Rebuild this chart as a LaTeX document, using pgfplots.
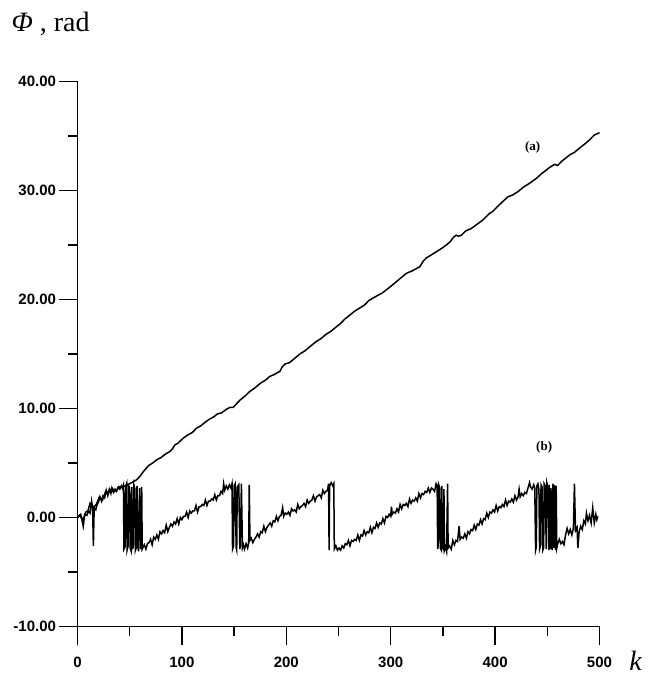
\documentclass[border=0pt]{standalone}
\usepackage{fontspec}
\setmainfont{Liberation Serif}
\newfontfamily\arial{Liberation Sans}
\usepackage{pgfplots}
\pgfplotsset{compat=1.18}

\begin{document}
\begin{tikzpicture}
\begin{axis}[
    scale only axis,
    width=522pt, height=545pt,
    xmin=0, xmax=500, ymin=-10, ymax=40,
    axis lines*=left,
    axis line style={line width=1.3pt},
    tick align=outside,
    major tick length=18pt, minor tick length=9pt,
    every tick/.style={line width=1.3pt, black},
    xtick={0,100,200,300,400,500},
    xticklabels={0,100,200,300,400,500},
    minor xtick={50,150,250,350,450},
    ytick={-10,0,10,20,30,40},
    yticklabels={-10.00,0.00,10.00,20.00,30.00,40.00},
    minor ytick={-5,5,15,25,35},
    ticklabel style={font=\arial\bfseries\fontsize{15}{15}\selectfont},
    xticklabel style={yshift=-9pt},
    clip=false,
]
% (a) unwrapped phase
\addplot[black, line width=1.5pt] coordinates {
 (0,0) (3,0.3) (5,-0.3) (8,0.5) (10,0.6) (12,1.3) (15,0.9) (18,1.2) (21,1.9) (24,1.6)
 (27,2.4) (30,2.3) (33,2.7) (36,2.4) (40,2.8) (44,2.85) (48,3.0) (52,3.2) (56.6,3.46) (60,3.8)
 (63,4.2) (67.8,4.74) (72,5.0) (76,5.3) (80,5.5) (84,5.8) (88.5,6.06) (91,6.3) (93.3,6.67) (96,6.8)
 (101.3,7.28) (106,7.6) (110,7.8) (114,8.2) (118,8.4) (122,8.72) (126,9.0) (130,9.2) (134,9.5) (138,9.6)
 (142.8,9.94) (146,10.1) (149,10.1) (152.3,10.43) (156,10.8) (160,11.1) (165,11.56) (170,11.9) (175,12.3) (180,12.6)
 (184.2,12.94) (188,13.1) (193.8,13.4) (196,13.8) (198.6,14.07) (203.3,14.22) (208,14.6) (213,15.0) (218,15.3) (223,15.7)
 (228,16.1) (233,16.4) (238,16.8) (243,17.1) (248,17.5) (252,17.8) (256,18.2) (260,18.5) (265,18.9) (270,19.2)
 (275,19.5) (279,19.9) (283,20.13) (288,20.4) (292,20.6) (296,20.9) (300,21.2) (305,21.6) (310,22.0) (315,22.4)
 (320,22.6) (324,22.8) (327.8,23.0) (331,23.5) (334,23.8) (339,24.1) (344,24.4) (349,24.7) (353.3,25.0) (357,25.3)
 (360,25.7) (362.9,25.9) (365,25.8) (367.7,25.9) (372,26.3) (377,26.5) (382,26.85) (388.3,27.3) (394.7,27.9) (398,28.1)
 (402,28.5) (407.5,29.0) (412,29.4) (417,29.6) (422,29.9) (427,30.3) (432,30.6) (435,30.8) (439.4,31.1) (444,31.5)
 (448,31.8) (452,32.1) (457,32.4) (460,32.3) (464,32.7) (468,33.0) (472,33.3) (476,33.5) (480.9,33.9) (485,34.2)
 (490,34.6) (495.2,35.1) (500,35.3)
};
% (b) wrapped phase
\addplot[black, line width=1.5pt] coordinates {
 (0,0) (2,0.2) (4,-0.1) (5.5,-0.8) (7,0.3) (9,0.2) (10.5,0.6) (12,0.4) (13.5,1.5) (14.5,0.8)
 (15.2,-2.6) (16,0.9) (17.5,0.7) (18.5,1.1) (20,1.4) (21.5,1.9) (23,1.5) (24.5,2.0) (26,1.8) (27.5,2.5)
 (29,2.0) (30.5,2.6) (32,2.2) (33,2.7) (34.5,2.3) (36,2.6) (37.5,2.4) (39,2.8) (40.5,2.6) (42,2.9) (43,2.7)
 (44,3.0) (44.5,-2.9) (45.5,-2.7) (46,2.8) (47,3.1) (47.5,-3.0) (48.5,-2.6) (49,2.9) (50,2.7) (50.5,-2.8)
 (51.5,-3.1) (52,2.8) (53,-2.9) (53.5,-2.5) (54,3.0) (55,2.6) (55.5,-3.0) (56.5,-2.7) (57,2.9) (58,-2.8)
 (58.5,-3.1) (59.5,2.7) (60.5,-2.9) (61,-2.6) (61.5,2.8) (62,-2.9) (63,-2.7)
 (64,-2.5) (65.5,-2.9) (67,-2.4) (68.5,-2.3) (70,-2.0) (71.5,-2.5) (73,-1.8) (74.5,-2.0) (76,-1.6) (77.5,-2.0)
 (79,-1.3) (80.5,-1.5) (82,-1.2) (83.5,-1.4) (85,-0.7) (86.5,-1.3) (88,-0.9) (89.5,-0.6) (91,-0.8) (92.5,-0.4)
 (94,-0.6) (95.5,-0.1) (97,-0.6) (98.5,0.0) (100,-0.2) (101.5,0.1) (103,0.1) (104.5,0.5) (106,0.0) (107.5,0.6)
 (109,0.4) (110.5,0.6) (112,0.6) (113.5,1.1) (115,0.5) (116.5,1.0) (118,1.0) (119.5,1.2) (121,1.1) (122.5,1.6)
 (124,1.1) (125.5,1.5) (127,1.5) (128.5,1.7) (130,1.6) (131.5,2.1) (133,1.6) (134.5,2.0) (136,2.0) (137.5,2.4)
 (139,2.2) (140,3.1) (141,2.5) (142.5,2.9) (144,2.6) (145.5,3.0) (147,2.7) (148,3.1)
 (148.5,-2.9) (149.5,-2.6) (150,2.9) (151,3.1) (152,-2.8) (152.5,-3.0) (153,2.8) (154.5,3.0) (155.5,-2.9) (156,-2.6)
 (157,3.1) (158,-2.8) (159,-2.5) (160,-2.9) (161.5,-2.4) (163,-2.8) (164,-2.3) (164.5,3.0) (165.2,-2.1)
 (166.5,-1.9) (168,-2.3) (169.5,-2.0) (171,-1.8) (172.5,-1.5) (174,-1.8) (175.5,-1.3) (177,-1.4) (178.5,-0.8) (180,-1.3)
 (181.5,-0.9) (183,-0.7) (184.5,-0.5) (186,-0.8) (187.5,-0.3) (189,-0.4) (190.5,0.1) (192,-0.3) (193.5,0.1) (195,0.2)
 (196.5,0.9) (197.5,0.1) (199,0.4) (200.5,0.3) (202,0.5) (203.5,0.2) (205,0.8) (206.5,0.6) (208,0.7) (209.5,0.5)
 (211,1.2) (212.5,0.8) (214,1.0) (215.5,1.1) (217,1.3) (218.5,1.0) (220,1.6) (221.5,1.3) (223,1.5) (224.5,1.6)
 (226,2.0) (227.5,1.5) (229,1.9) (230.5,2.0) (232,2.1) (233.5,1.8) (235,2.5) (236.5,2.2) (238,2.4) (239.5,2.5)
 (240.5,3.1) (241,-3.0) (241.5,2.9) (243,3.2) (244.5,2.9) (245.5,3.1) (246,-2.9)
 (247.5,-2.6) (249,-3.0) (250.5,-2.8) (252,-3.0) (253.5,-2.6) (255,-2.8) (256.5,-2.4) (258,-2.5) (259.5,-2.1) (261,-2.6)
 (262.5,-2.1) (264,-2.2) (265.5,-2.0) (267,-2.1) (268.5,-1.6) (270,-2.1) (271.5,-1.6) (273,-1.7) (274.5,-1.2) (276,-1.6)
 (277.5,-1.3) (279,-1.4) (280.5,-0.9) (282,-1.4) (283.5,-0.9) (285,-1.0) (286.5,-0.5) (288,-0.9) (289.5,-0.5) (291,-0.6)
 (292.5,-0.1) (294,-0.5) (295.5,0.1) (297,0.0) (298.5,0.3) (300,0.1) (300.7,1.0) (301.5,0.3) (303,0.5) (304.5,0.4)
 (306,0.8) (307.5,0.5) (309,1.2) (310.5,0.8) (312,1.2) (313.5,1.1) (315,1.3) (316.5,1.0) (318,1.7) (319.5,1.3)
 (321,1.6) (322.5,1.5) (324,1.8) (325.5,1.5) (327,2.2) (328.5,1.8) (330,2.2) (331.5,2.1) (333,2.4) (334.5,2.3)
 (336,2.7) (337.5,2.3) (339,2.7) (340.5,2.6) (342,2.4) (343.5,3.1) (344.5,2.9)
 (345,-2.9) (345.5,-2.6) (346,3.0) (347,2.7) (347.5,-2.8) (348.5,-3.0) (349,2.9) (349.5,-2.7) (350.5,-2.9) (351,2.6)
 (351.5,-3.0) (352.5,-2.7) (353.5,-3.1) (354.5,3.1) (355,-2.8) (356.5,-2.6)
 (358,-2.9) (359.5,-2.1) (361,-2.5) (362.5,-2.1) (364,-2.2) (365.5,-0.8) (366.5,-2.0) (368,-1.8) (369.5,-1.9) (371,-1.5)
 (372.5,-1.9) (374,-1.3) (375.5,-1.5) (377,-1.1) (378.5,-1.2) (380,-0.7) (381.5,-1.1) (383,-0.6) (384.5,-0.7) (386,-0.2)
 (387.5,-0.6) (389,-0.1) (390.5,-0.2) (392,0.4) (393.5,0.0) (395,0.5) (396.5,0.4) (398,0.7) (399.5,0.5) (401,1.1)
 (402.5,0.6) (404,1.0) (405.5,0.9) (407,1.2) (408.5,1.0) (410,1.6) (411.5,1.1) (413,1.5) (414.5,1.4) (416,1.7)
 (417.5,1.4) (419,2.0) (420.5,1.6) (422,1.9) (423,2.6) (424,1.9) (425.5,2.2) (427,2.0) (428.5,2.3) (430,2.2)
 (431.5,2.7) (433,3.2) (434,2.8) (435.5,2.6) (437,3.0)
 (438,2.7) (438.8,-3.0) (439.5,-2.7) (440,2.9) (441,3.1) (442,2.6) (442.6,-2.9) (443.5,-2.6) (444,3.0) (445,2.8)
 (445.7,-3.0) (446.5,-2.8) (447,3.1) (448,2.9) (449,-2.9) (449.5,3.2) (450.5,2.8) (451.5,-3.0) (452,3.0) (453,-2.9)
 (453.5,2.7) (454.7,-3.0) (455.3,3.1) (456.2,-2.8) (457,3.0) (457.9,-3.0) (458.5,2.9) (459.1,-2.8) (460,-2.4)
 (461.5,-2.0) (463,-2.4) (464.5,-2.2) (466,-2.5) (467.5,-1.6) (469,-1.0) (470.5,-1.5) (472,-1.1) (473.5,-1.6) (475,-1.0)
 (476,3.1) (477,-1.2) (478.5,-0.9) (479.3,-2.8) (480.5,-1.3) (482,-0.8) (483.5,-1.1) (485,-0.3) (486.5,-0.6) (487.5,0.4)
 (489,-0.3) (490.5,0.2) (492,-0.5) (493.5,0.9) (495,-0.5) (496.5,0.3) (497.5,-0.2) (498.5,0.1)
};
\node[font=\bfseries\fontsize{13}{13}\selectfont] at (axis cs:436,34) {(a)};
\node[font=\bfseries\fontsize{13}{13}\selectfont] at (axis cs:447,6.4) {(b)};
\end{axis}
\node[anchor=base west, font=\fontsize{28}{30}\selectfont] at (-69.5pt,595pt) {\textit{Φ} , rad};
\node[anchor=base, font=\fontsize{28}{30}\selectfont\itshape] at (558pt,-44pt) {k};
\path (-77.5pt,-50.5pt) rectangle (571.5pt,626.5pt);
\end{tikzpicture}
\end{document}
